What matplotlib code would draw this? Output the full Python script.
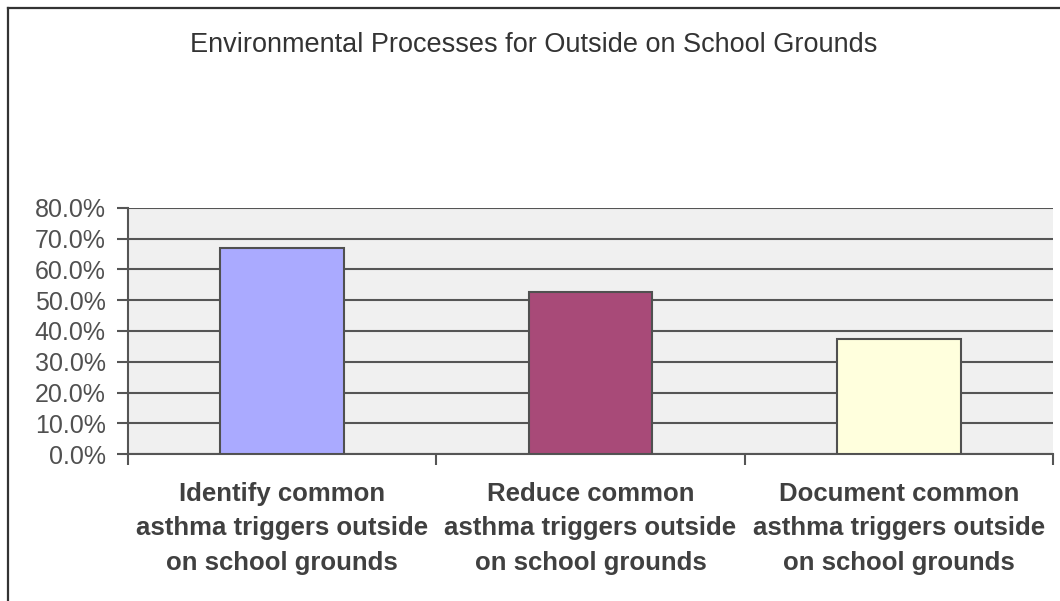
import matplotlib
matplotlib.use("Agg")
import matplotlib.pyplot as plt
from matplotlib.lines import Line2D
from matplotlib.ticker import FuncFormatter

categories = ["Identify common\nasthma triggers outside\non school grounds",
              "Reduce common\nasthma triggers outside\non school grounds",
              "Document common\nasthma triggers outside\non school grounds"]
values = [66.9, 52.8, 37.3]
colors = ["#aaaaff", "#a84a78", "#ffffdd"]
title = "Environmental Processes for Outside on School Grounds"

W, H = 1060, 601
fig = plt.figure(figsize=(W / 100, H / 100), dpi=100)
fig.patch.set_facecolor("white")
plt.rcParams['font.family'] = ['Liberation Sans', 'DejaVu Sans']

ax = fig.add_axes([128 / W, 1 - 454 / H, (1053 - 128) / W, (454 - 208) / H])
ax.set_facecolor("#f0f0f0")

x = list(range(len(categories)))
ax.bar(x, values, width=0.4, color=colors, edgecolor="#505050", linewidth=1.5, zorder=3)

ax.set_xlim(-0.5, len(categories) - 0.5)
ax.set_ylim(0, 80)
ax.set_yticks(range(0, 81, 10))
ax.yaxis.set_major_formatter(FuncFormatter(lambda v, p: f"{v:.1f}%"))
ax.yaxis.grid(True, color="#555555", linewidth=1.5, zorder=1)
ax.set_axisbelow(True)

ax.set_xticks(x)
ax.set_xticklabels(categories, fontsize=18.5, fontweight="bold", color="#404040", linespacing=1.55)
ax.set_xticks([i - 0.5 for i in range(len(categories) + 1)], minor=True)
ax.tick_params(axis="x", which="major", length=0, pad=20)
ax.tick_params(axis="x", which="minor", length=8, width=1.5, color="#555555")
ax.tick_params(axis="y", length=8, width=1.5, color="#555555", labelsize=18, labelcolor="#505050", pad=8)

for s in ["top", "right"]:
    ax.spines[s].set_visible(False)
for s in ["left", "bottom"]:
    ax.spines[s].set_color("#555555")
    ax.spines[s].set_linewidth(1.5)

fig.text(534 / W, 1 - 45 / H, title, ha="center", va="center", fontsize=19.5, color="#333333")

# outer chart border (left and top visible)
fig.add_artist(Line2D([8 / W, 8 / W], [0, 1 - 8 / H], color="#333333", linewidth=1.6, transform=fig.transFigure))
fig.add_artist(Line2D([8 / W, 1], [1 - 8 / H, 1 - 8 / H], color="#333333", linewidth=1.6, transform=fig.transFigure))

fig.savefig("out.png", dpi=100)
